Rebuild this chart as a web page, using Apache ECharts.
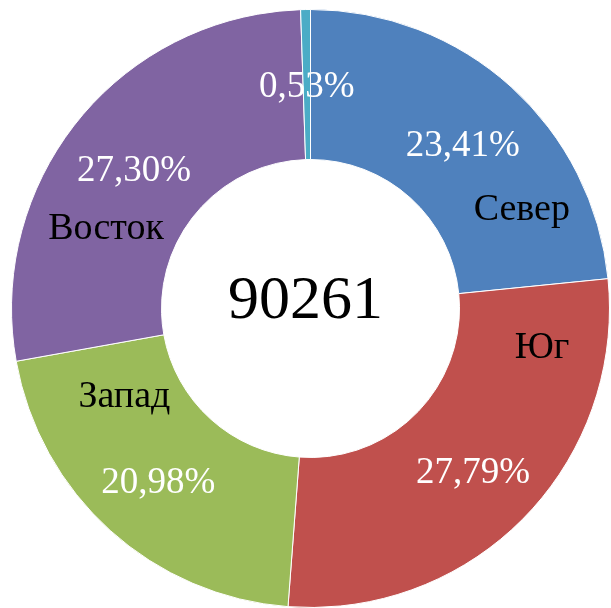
<!DOCTYPE html>
<html>
<head>
<meta charset="utf-8">
<script src="https://cdn.jsdelivr.net/npm/echarts@6/dist/echarts.min.js"></script>
<style>
html,body{margin:0;padding:0;background:#fff;}
#chart{width:611px;height:608px;}
</style>
</head>
<body>
<div id="chart"></div>
<script>
// Categories (clockwise from 12 o'clock)
var categories = ['Север', 'Юг', 'Запад', 'Восток', 'Прочие'];
// Values (sum = 90261, the total shown in the centre)
var values = [21130, 25083, 18935, 24637, 476];
var totalText = '90261';

// layout-only settings (not data)
var colors = ['#4F81BD', '#C0504D', '#9BBB59', '#8064A2', '#4BACC6'];
var nameOffsets = [[59, 70], [69, -119], [-34, -80], [-28, 63], [0, 0]];
var CX = 310.5, CY = 308.5, R0 = 149, R1 = 299;
var FONT = '"Liberation Serif", "DejaVu Serif", serif';

var total = values.reduce(function (a, b) { return a + b; }, 0);

var chart = echarts.init(document.getElementById('chart'), null, {renderer: 'canvas'});

var sliceData = categories.map(function (c, i) {
  return {name: c, value: values[i], itemStyle: {color: colors[i]}};
});
var nameData = categories.map(function (c, i) {
  return {
    name: c, value: values[i],
    label: {show: i < 4, offset: nameOffsets[i]}
  };
});

var common = {
  type: 'pie',
  center: [CX, CY],
  radius: [R0, R1],
  startAngle: 90,
  clockwise: true,
  avoidLabelOverlap: false,
  labelLine: {show: false},
  emphasis: {disabled: true}
};

chart.setOption({
  animation: false,
  backgroundColor: '#ffffff',
  series: [
    Object.assign({}, common, {
      name: 'slices',
      data: sliceData,
      itemStyle: {borderColor: '#ffffff', borderWidth: 1},
      label: {
        show: true, position: 'inside',
        offset: [0, 6],
        fontFamily: FONT, fontSize: 37, color: '#ffffff',
        formatter: function (p) {
          return (p.value / total * 100).toFixed(2).replace('.', ',') + '%';
        }
      },
      z: 2
    }),
    Object.assign({}, common, {
      name: 'names',
      data: nameData,
      silent: true,
      itemStyle: {color: 'rgba(0,0,0,0)', borderWidth: 0},
      label: {
        show: true, position: 'inside',
        fontFamily: FONT, fontSize: 38, color: '#000000',
        formatter: '{b}'
      },
      z: 3
    })
  ],
  graphic: [{
    type: 'text',
    x: 305.5, y: 302,
    style: {
      text: totalText,
      font: '62px ' + FONT,
      fill: '#000000',
      align: 'center',
      verticalAlign: 'middle'
    },
    z: 10
  }]
});
</script>
</body>
</html>
